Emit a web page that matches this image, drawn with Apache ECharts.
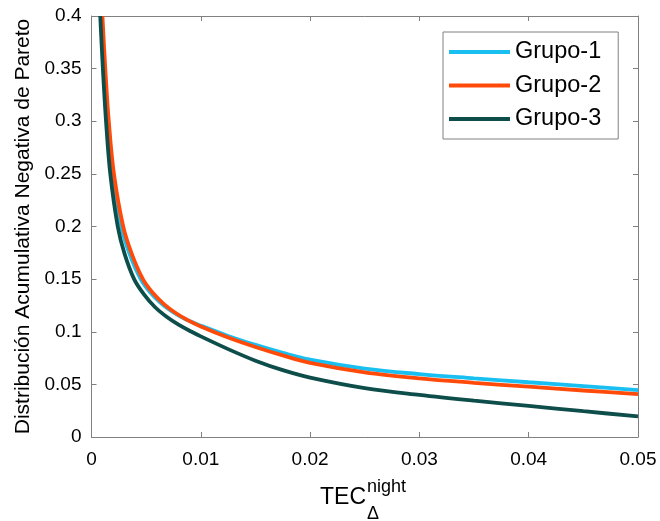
<!DOCTYPE html>
<html>
<head>
<meta charset="utf-8">
<script src="https://cdn.jsdelivr.net/npm/echarts@6/dist/echarts.min.js"></script>
<style>
html,body{margin:0;padding:0;background:#fff;}
#c{width:660px;height:521px;}
</style>
</head>
<body>
<div id="c"></div>
<script>
// Data: [x, y] pairs
const seriesNames = ['Grupo-1', 'Grupo-2', 'Grupo-3'];
const grupo1 = [
  [0.00092,0.400],[0.00118,0.350],[0.00149,0.300],[0.00194,0.250],[0.00272,0.200],
  [0.0035,0.1735],[0.0045,0.1500],[0.0054,0.1370],[0.0064,0.1268],[0.0074,0.1190],
  [0.0086,0.1118],[0.0100,0.1058],[0.0125,0.0960],[0.0150,0.0875],[0.0175,0.0800],
  [0.0200,0.0735],[0.0250,0.0650],[0.0300,0.0598],[0.0350,0.0558],[0.0400,0.0520],
  [0.0450,0.0483],[0.0500,0.0446]
];
const grupo2 = [
  [0.00100,0.400],[0.00126,0.350],[0.00158,0.300],[0.00205,0.250],[0.0029,0.200],
  [0.0037,0.1735],[0.0047,0.1500],[0.0056,0.1370],[0.0066,0.1265],[0.0076,0.1185],
  [0.0088,0.1110],[0.0100,0.1050],[0.0125,0.0945],[0.0150,0.0855],[0.0175,0.0775],
  [0.0200,0.0705],[0.0250,0.0615],[0.0300,0.0557],[0.0350,0.0515],[0.0400,0.0478],
  [0.0450,0.0442],[0.0500,0.0407]
];
const grupo3 = [
  [0.00080,0.400],[0.00104,0.350],[0.00133,0.300],[0.00172,0.250],[0.00240,0.200],
  [0.0030,0.175],[0.0039,0.150],[0.0048,0.1355],[0.0058,0.1235],[0.0069,0.1140],
  [0.0080,0.1065],[0.00916,0.1000],[0.0100,0.0956],[0.0125,0.0835],[0.0150,0.0725],
  [0.0175,0.0635],[0.0200,0.0565],[0.0250,0.0465],[0.0300,0.0400],[0.0350,0.0345],
  [0.0400,0.0295],[0.0450,0.0245],[0.0500,0.0196]
];
const xTicks = {min: 0, max: 0.05, interval: 0.01};
const yTicks = {min: 0, max: 0.4, interval: 0.05};
const colors = ['#19BFF0', '#FF4A0A', '#0D4D4A'];

const FONT = '"Liberation Sans", Arial, Helvetica, sans-serif';
const axisGray = '#808080';

const chart = echarts.init(document.getElementById('c'), null, {renderer: 'canvas'});

function mkX(pos, showLabel) {
  return {
    type: 'value', position: pos, min: xTicks.min, max: xTicks.max, interval: xTicks.interval,
    axisLine: {show: true, onZero: false, lineStyle: {color: axisGray, width: 1}},
    axisTick: {show: true, inside: true, length: 5, lineStyle: {color: axisGray}},
    axisLabel: {show: showLabel, color: '#000', fontSize: 19, fontFamily: FONT, margin: 13},
    splitLine: {show: false}
  };
}
function mkY(pos, showLabel) {
  return {
    type: 'value', position: pos, min: yTicks.min, max: yTicks.max, interval: yTicks.interval,
    axisLine: {show: true, onZero: false, lineStyle: {color: axisGray, width: 1}},
    axisTick: {show: true, inside: true, length: 5, lineStyle: {color: axisGray}},
    axisLabel: {show: showLabel, color: '#000', fontSize: 19, fontFamily: FONT, margin: 10},
    splitLine: {show: false},
    name: showLabel ? 'Distribución Acumulativa Negativa de Pareto' : '',
    nameLocation: 'middle', nameGap: 51,
    nameTextStyle: {color: '#000', fontSize: 21, fontFamily: FONT}
  };
}

const data = [grupo1, grupo2, grupo3];
const option = {
  animation: false,
  backgroundColor: '#fff',
  grid: {left: 91.5, right: 22, top: 16, bottom: 84, containLabel: false},
  xAxis: [mkX('bottom', true), mkX('top', false)],
  yAxis: [mkY('left', true), mkY('right', false)],
  legend: {
    orient: 'vertical', left: 443, top: 32,
    padding: [8, 17, 8, 6], itemGap: 9.5,
    itemWidth: 61, itemHeight: 4, icon: 'rect',
    borderColor: axisGray, borderWidth: 1, backgroundColor: '#fff',
    textStyle: {color: '#000', fontSize: 23.5, fontFamily: FONT},
    data: seriesNames
  },
  series: seriesNames.map((n, i) => ({
    name: n, type: 'line', data: data[i], xAxisIndex: 0, yAxisIndex: 0,
    showSymbol: false, symbol: 'none', smooth: 0.35, clip: true,
    lineStyle: {color: colors[i], width: 3.8},
    itemStyle: {color: colors[i]}
  })),
  graphic: [
    {type: 'text', left: 320, top: 486, style: {text: 'TEC', fontSize: 23, fontFamily: FONT, fill: '#000'}},
    {type: 'text', left: 367, top: 478, style: {text: 'night', fontSize: 18, fontFamily: FONT, fill: '#000'}},
    {type: 'text', left: 367, top: 505, style: {text: 'Δ', fontSize: 18, fontFamily: FONT, fill: '#000'}}
  ]
};
chart.setOption(option);
</script>
</body>
</html>
